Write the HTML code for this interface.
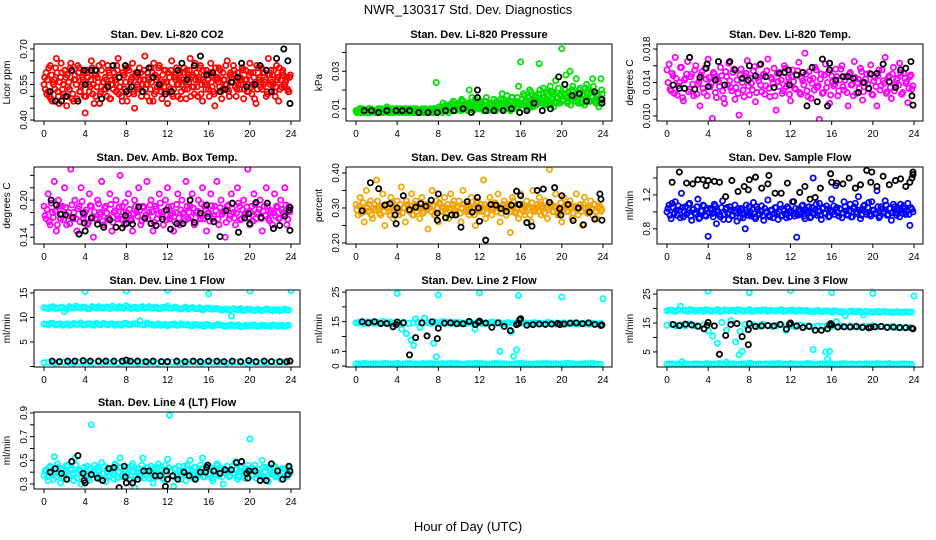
<!DOCTYPE html>
<html><head><meta charset="utf-8"><style>
body{margin:0;background:#fff;}
svg{display:block;font-family:"Liberation Sans",sans-serif;}
</style></head><body>
<svg id="chart" width="936" height="540" viewBox="0 0 936 540" xmlns="http://www.w3.org/2000/svg">
<text x="468" y="14" text-anchor="middle" font-size="13">NWR_130317  Std. Dev. Diagnostics</text>
<text x="468" y="531" text-anchor="middle" font-size="13">Hour of Day (UTC)</text>
</svg>
<script>
// ---- data (dense series sampled evenly over the day; black series with hours) ----
const xTicks = [0,4,8,12,16,20,24];

const co2Red = [.55,.60,.52,.63,.48,.57,.66,.50,.58,.53,.61,.46,.56,.64,.51,.59,.49,.62,.54,.57,.43,.60,.52,.65,.55,.50,.58,.47,.61,.56,.53,.63,.49,.57,.60,.52,.66,.54,.48,.59,.62,.51,.56,.64,.45,.58,.53,.60,.55,.67,.50,.57,.62,.48,.59,.54,.63,.52,.56,.61,.47,.58,.65,.53,.57,.50,.60,.55,.62,.49,.58,.66,.54,.51,.60,.57,.63,.48,.56,.61,.53,.64,.59,.46,.57,.62,.52,.60,.55,.65,.50,.58,.63,.54,.60,.53,.57,.49,.61,.55,.64,.51,.58,.47,.62,.56,.53,.60,.50,.66,.55,.59,.52,.63,.48,.57,.61,.54,.58,.52];
const co2Red2 = [.58,.51,.62,.49,.56,.53,.60,.47,.64,.55,.50,.59,.53,.61,.48,.57,.63,.52,.55,.60,.50,.58,.54,.62,.47,.59,.56,.51,.64,.53,.57,.61,.49,.55,.58,.63,.51,.56,.60,.53,.48,.61,.57,.52,.59,.55,.62,.50,.57,.53,.60,.48,.56,.64,.52,.58,.54,.49,.61,.56,.60,.53,.51,.58,.62,.55,.49,.57,.53,.61,.56,.50,.59,.64,.54,.58,.51,.61,.55,.59,.50,.56,.52,.62,.58,.54,.49,.57,.63,.53,.59,.56,.61,.50,.55,.58,.62,.53,.57,.52,.60,.55,.49,.63,.57,.54,.60,.56,.52,.59,.61,.55,.50,.57,.62,.54,.59,.56,.53,.58];
const co2Red3 = [.53,.57,.50,.59,.55,.62,.52,.56,.60,.51,.58,.54,.62,.49,.57,.55,.60,.52,.58,.50,.61,.55,.57,.51,.59,.54,.63,.52,.56,.58,.50,.60,.55,.53,.57,.61,.54,.50,.59,.56,.62,.53,.58,.51,.60,.54,.57,.52,.61,.55,.58,.53,.60,.51,.57,.62,.55,.59,.52,.56,.54,.61,.50,.59,.55,.57,.52,.60,.56,.53,.61,.58,.54,.57,.50,.62,.55,.59,.53,.57,.60,.54,.51,.58,.56,.61,.53,.57,.55,.52,.60,.56,.59,.53,.58,.55,.61,.57,.52,.59,.54,.60,.56,.53,.58,.62,.55,.57,.51,.59,.56,.61,.54,.58,.53,.60,.55,.57,.52,.59];
const co2BlackH = [0.6,1.1,1.7,2.2,2.7,3.3,3.9,4.0,4.6,5.0,5.6,6.2,6.7,7.3,7.9,8.0,8.5,9.1,9.6,10.2,10.6,11.2,11.8,12.4,13.0,13.4,13.9,14.6,15.2,15.8,16.4,17.1,17.6,18.2,18.8,19.2,19.7,20.5,21.0,21.6,22.1,22.6,23.3,23.7,23.9];
const co2BlackV = [.52,.48,.48,.50,.61,.48,.61,.55,.61,.61,.49,.54,.63,.58,.63,.52,.54,.60,.52,.62,.58,.55,.51,.52,.61,.64,.57,.63,.67,.59,.60,.52,.53,.56,.58,.64,.54,.55,.63,.61,.52,.66,.70,.65,.47];

const presGreen = [.009,.008,.010,.009,.008,.009,.010,.008,.009,.009,.008,.010,.009,.008,.009,.011,.008,.009,.010,.009,.009,.008,.010,.009,.008,.009,.010,.008,.009,.010,.008,.009,.010,.008,.009,.008,.010,.009,.008,.024,.009,.010,.008,.011,.009,.008,.010,.012,.009,.011,.013,.009,.014,.010,.012,.020,.011,.009,.015,.012,.010,.013,.009,.014,.011,.012,.010,.015,.009,.013,.011,.018,.010,.014,.012,.009,.016,.013,.011,.022,.035,.012,.017,.010,.014,.019,.011,.016,.013,.034,.015,.021,.012,.018,.014,.019,.011,.025,.016,.013,.042,.018,.028,.014,.030,.020,.016,.026,.013,.021,.017,.012,.023,.015,.019,.026,.014,.018,.011,.026];
const presGreen2 = [.008,.009,.009,.010,.008,.009,.008,.010,.009,.008,.009,.009,.010,.008,.009,.008,.010,.009,.008,.009,.010,.009,.008,.009,.010,.008,.009,.009,.008,.010,.009,.008,.009,.010,.008,.009,.009,.008,.010,.009,.011,.009,.013,.010,.009,.012,.010,.014,.009,.012,.010,.015,.011,.013,.009,.012,.016,.010,.013,.011,.014,.010,.012,.016,.009,.013,.011,.010,.014,.012,.015,.010,.013,.017,.011,.014,.010,.012,.016,.013,.012,.018,.014,.011,.020,.015,.012,.017,.014,.020,.013,.016,.019,.012,.022,.015,.018,.013,.021,.017,.014,.023,.016,.019,.012,.022,.017,.015,.020,.013,.018,.021,.016,.014,.019,.022,.015,.017,.013,.020];
const presGreen3 = [.009,.010,.008,.009,.009,.008,.010,.009,.009,.008,.010,.009,.008,.009,.010,.009,.009,.008,.009,.010,.008,.009,.009,.010,.009,.008,.009,.010,.009,.008,.009,.009,.008,.010,.009,.009,.008,.010,.009,.009,.010,.011,.009,.012,.010,.011,.013,.009,.011,.010,.012,.014,.010,.011,.013,.010,.012,.011,.013,.010,.012,.011,.014,.010,.012,.013,.011,.012,.010,.013,.012,.015,.011,.013,.010,.016,.012,.014,.011,.013,.015,.012,.014,.016,.011,.013,.015,.012,.018,.014,.016,.013,.015,.017,.012,.019,.014,.016,.013,.018,.015,.020,.013,.017,.015,.019,.014,.016,.018,.013,.017,.015,.020,.014,.016,.019,.013,.017,.015,.018];
const presBlackH = [0.8,1.5,2.2,3.0,3.9,4.5,5.2,6.1,7.0,7.9,8.7,9.5,10.4,11.2,11.8,11.8,12.6,13.4,14.3,15.1,15.9,16.6,17.3,18.1,18.9,19.7,20.3,21.0,21.7,22.4,23.2,23.9,23.9];
const presBlackV = [.009,.009,.008,.009,.009,.009,.009,.008,.008,.008,.009,.009,.010,.008,.020,.016,.009,.009,.009,.010,.008,.009,.013,.009,.010,.027,.023,.017,.018,.014,.019,.013,.015];

const tempMag = [.0155,.0162,.0130,.0148,.0170,.0125,.0140,.0158,.0118,.0145,.0165,.0132,.0150,.0124,.0160,.0138,.0112,.0153,.0128,.0144,.0168,.0135,.0097,.0150,.0122,.0141,.0158,.0130,.0115,.0147,.0163,.0134,.0152,.0120,.0143,.0101,.0156,.0131,.0148,.0166,.0125,.0139,.0154,.0117,.0146,.0161,.0129,.0150,.0136,.0168,.0123,.0144,.0157,.0107,.0141,.0152,.0127,.0160,.0135,.0146,.0118,.0155,.0133,.0149,.0164,.0126,.0142,.0175,.0130,.0153,.0121,.0145,.0158,.0134,.0096,.0150,.0128,.0162,.0140,.0115,.0148,.0136,.0156,.0124,.0143,.0160,.0131,.0147,.0112,.0152,.0138,.0165,.0127,.0144,.0157,.0119,.0140,.0150,.0133,.0161,.0125,.0146,.0112,.0155,.0136,.0142,.0170,.0129,.0148,.0121,.0158,.0137,.0145,.0163,.0126,.0151,.0139,.0116,.0147,.0132];
const tempMag2 = [.0140,.0132,.0151,.0127,.0145,.0136,.0158,.0122,.0143,.0150,.0129,.0147,.0138,.0155,.0126,.0141,.0149,.0133,.0157,.0124,.0146,.0139,.0152,.0128,.0144,.0135,.0148,.0121,.0153,.0137,.0142,.0130,.0156,.0134,.0127,.0149,.0140,.0123,.0151,.0136,.0145,.0131,.0159,.0128,.0142,.0137,.0148,.0126,.0154,.0133,.0146,.0139,.0124,.0151,.0135,.0143,.0130,.0157,.0138,.0126,.0147,.0141,.0132,.0154,.0128,.0145,.0137,.0150,.0123,.0143,.0139,.0131,.0155,.0136,.0144,.0127,.0149,.0134,.0152,.0125,.0141,.0138,.0147,.0130,.0156,.0135,.0143,.0128,.0150,.0137,.0124,.0146,.0140,.0133,.0153,.0129,.0144,.0138,.0151,.0126,.0142,.0135,.0148,.0131,.0155,.0139,.0127,.0146,.0134,.0150,.0130,.0143,.0137,.0152,.0128,.0145,.0141,.0133,.0149,.0136];
const tempBlackH = [0.6,1.2,1.7,2.2,2.7,3.2,3.8,3.9,4.0,4.7,5.0,5.6,6.1,6.6,7.3,7.9,8.0,8.6,9.1,9.6,10.4,10.9,11.4,11.8,11.9,12.6,13.2,13.6,14.1,14.6,15.1,15.6,15.8,15.8,16.4,17.1,17.6,18.1,18.6,19.1,19.6,19.8,20.4,21.0,21.6,22.2,22.7,23.2,23.7,23.8,23.9];
const tempBlackV = [.0137,.0133,.0133,.0170,.0132,.0146,.0157,.0162,.0135,.0143,.0165,.0137,.0165,.0155,.0145,.0143,.0160,.0148,.0162,.0147,.0134,.0151,.0152,.0155,.0137,.0149,.0152,.0112,.0158,.0117,.0168,.0112,.0155,.0163,.0143,.0147,.0147,.0145,.0128,.0140,.0133,.0150,.0151,.0162,.0141,.0134,.0155,.0157,.0165,.0124,.0113];

const boxMag = [.19,.17,.21,.16,.18,.23,.15,.20,.17,.19,.22,.16,.18,.25,.17,.20,.15,.19,.22,.17,.18,.16,.21,.19,.14,.17,.20,.18,.23,.16,.19,.17,.21,.15,.18,.20,.17,.24,.19,.16,.18,.21,.17,.15,.20,.18,.22,.16,.19,.17,.23,.18,.20,.15,.19,.17,.21,.18,.16,.20,.22,.17,.19,.15,.18,.21,.16,.20,.18,.23,.17,.19,.21,.16,.18,.20,.17,.22,.19,.15,.18,.21,.17,.19,.23,.16,.20,.18,.14,.19,.17,.21,.18,.16,.22,.19,.17,.20,.18,.25,.16,.19,.21,.17,.18,.20,.15,.19,.22,.17,.18,.16,.21,.19,.17,.20,.18,.22,.16,.19];
const boxMag2 = [.175,.185,.165,.195,.172,.182,.160,.190,.178,.168,.188,.174,.162,.192,.180,.170,.186,.165,.198,.176,.184,.163,.191,.173,.181,.168,.194,.177,.166,.187,.179,.171,.193,.164,.183,.175,.189,.169,.180,.196,.172,.185,.167,.178,.190,.174,.183,.166,.188,.176,.170,.192,.181,.164,.186,.177,.195,.173,.182,.168,.189,.175,.179,.165,.193,.171,.184,.178,.167,.190,.180,.173,.187,.163,.182,.176,.194,.170,.185,.178,.166,.191,.174,.183,.169,.188,.177,.181,.164,.192,.175,.186,.171,.179,.195,.168,.184,.176,.189,.172,.180,.166,.193,.178,.185,.170,.182,.175,.190,.167,.183,.179,.174,.188,.171,.185,.177,.192,.169,.181];
const boxBlackH = [0.7,1.2,1.6,2.1,2.8,3.4,3.8,3.9,4.0,4.6,5.2,5.8,6.4,7.0,7.6,7.9,8.0,8.6,9.2,9.8,10.4,10.9,11.5,11.9,12.3,12.9,13.5,14.2,14.6,15.2,15.8,15.9,16.5,17.1,17.7,18.3,18.9,19.5,19.9,20.0,20.6,21.1,21.7,22.3,22.9,23.4,23.8,23.9,23.9];
const boxBlackV = [.200,.192,.177,.176,.172,.145,.179,.163,.150,.171,.161,.156,.168,.156,.155,.175,.162,.161,.189,.171,.162,.159,.169,.184,.153,.162,.162,.200,.164,.179,.192,.173,.165,.141,.183,.195,.148,.171,.178,.162,.196,.172,.195,.154,.159,.174,.184,.188,.151];

const flowBlue = [1.00,1.08,.92,1.05,1.12,.96,1.02,1.22,.94,1.06,.99,1.10,.90,1.03,.97,1.15,.93,1.01,1.07,.95,.71,1.04,.98,1.09,.86,1.00,.94,1.13,.97,1.05,.91,1.02,.96,1.08,.89,1.01,1.04,.93,.80,.99,1.06,.95,1.11,.92,1.03,.97,1.07,.90,1.00,1.14,.94,1.02,.98,1.05,.91,1.09,.96,1.01,.93,1.04,.99,1.12,.95,.70,1.03,.97,1.08,.92,1.00,1.06,.94,1.40,1.02,.96,1.10,.91,1.05,.98,1.03,.95,1.15,1.07,1.31,.99,1.04,.93,1.12,1.01,.96,1.09,.94,1.06,1.00,1.18,.92,1.03,1.08,.97,1.11,.95,1.02,.98,1.25,.93,1.06,1.00,1.13,.96,1.04,.90,1.09,.99,1.05,.94,1.02,1.07,.97,1.10,.84,1.03];
const flowBlue2 = [1.04,.96,1.10,.98,1.02,1.07,.93,1.05,1.00,.97,1.09,.95,1.03,.99,1.06,.92,1.01,1.08,.96,1.04,.99,1.02,.94,1.07,1.00,.97,1.05,.91,1.03,.98,1.06,.95,1.01,.99,1.04,.93,1.02,.97,1.08,.96,1.00,1.03,.94,1.06,.98,1.01,.95,1.04,.99,.96,1.02,.93,1.05,.98,1.00,.95,1.03,.97,1.06,.94,1.01,.98,1.04,.96,1.00,1.07,.95,1.02,.99,.93,1.05,.98,1.09,1.01,.96,1.04,.99,1.07,.94,1.02,1.00,.97,1.05,.95,1.03,.99,1.06,.97,1.01,.94,1.04,1.10,.98,1.02,.96,1.07,1.00,1.05,.97,1.12,1.02,.99,1.06,.95,1.03,1.00,1.08,.97,1.04,.99,1.06,.96,1.02,1.09,.98,1.04,1.01,.97,1.05,1.00];
const flowBlackH = [0.5,1.2,1.9,2.5,3.0,3.5,3.8,4.0,4.6,5.1,5.7,6.3,6.9,7.5,7.9,8.0,8.6,9.2,9.8,9.9,10.5,11.1,11.7,12.3,12.9,13.4,13.9,14.4,14.9,15.9,16.0,16.5,17.1,17.7,18.3,18.8,19.4,19.8,19.9,20.4,21.0,21.6,22.2,22.7,23.2,23.6,23.8,23.9,23.9];
const flowBlackV = [1.35,1.47,1.34,1.33,1.38,1.38,1.31,1.37,1.36,1.35,1.18,1.37,1.24,1.30,1.26,1.38,1.41,1.28,1.33,1.43,1.22,1.22,1.34,1.12,1.23,1.30,1.15,1.17,1.28,1.45,1.35,1.34,1.33,1.40,1.28,1.32,1.49,1.35,1.47,1.30,1.42,1.32,1.37,1.39,1.30,1.35,1.40,1.44,1.47];

const rhOrange = [.31,.28,.33,.30,.26,.35,.29,.32,.27,.31,.38,.30,.28,.34,.25,.31,.29,.33,.27,.30,.32,.28,.36,.30,.26,.31,.29,.34,.28,.32,.30,.27,.33,.29,.31,.24,.30,.35,.28,.32,.26,.31,.29,.33,.30,.27,.34,.31,.28,.30,.32,.26,.35,.29,.31,.28,.33,.30,.25,.32,.29,.31,.38,.27,.30,.33,.28,.31,.29,.34,.26,.30,.32,.28,.31,.23,.33,.29,.30,.27,.34,.31,.28,.32,.30,.26,.35,.29,.31,.33,.28,.30,.32,.27,.41,.31,.29,.34,.28,.30,.26,.33,.31,.29,.32,.27,.30,.34,.28,.31,.25,.33,.29,.30,.32,.28,.31,.27,.30,.29];
const rhOrange2 = [.295,.305,.285,.315,.29,.30,.31,.28,.30,.295,.32,.285,.305,.29,.31,.30,.28,.315,.295,.30,.29,.31,.285,.30,.32,.295,.305,.28,.31,.29,.30,.315,.285,.30,.295,.31,.29,.305,.28,.30,.315,.29,.30,.285,.31,.295,.30,.32,.29,.305,.285,.30,.31,.295,.29,.305,.30,.28,.315,.295,.30,.29,.31,.285,.305,.30,.295,.315,.29,.30,.285,.31,.30,.295,.305,.29,.32,.285,.30,.31,.295,.29,.305,.30,.28,.315,.295,.30,.29,.31,.305,.285,.30,.295,.31,.29,.305,.30,.285,.315,.295,.30,.29,.31,.30,.285,.305,.295,.30,.29,.31,.30,.285,.305,.295,.31,.29,.30,.305,.295];
const rhBlackH = [0.6,1.4,2.2,2.8,3.3,3.8,3.9,4.0,4.6,5.2,5.8,6.3,6.8,7.3,7.9,7.9,8.0,8.7,9.3,9.7,10.2,10.8,11.3,11.8,11.9,12.0,12.6,13.1,13.6,14.1,14.6,15.1,15.6,15.8,15.9,16.0,16.6,17.1,17.6,18.2,18.8,19.3,19.8,19.9,20.0,20.6,21.1,21.6,22.1,22.7,23.2,23.7,23.8,23.9];
const rhBlackV = [.292,.372,.355,.308,.312,.280,.255,.300,.335,.295,.302,.312,.305,.322,.285,.265,.340,.272,.280,.280,.245,.318,.288,.330,.300,.262,.208,.310,.308,.298,.290,.308,.348,.310,.310,.335,.258,.248,.350,.354,.316,.358,.298,.280,.335,.310,.264,.300,.252,.288,.268,.340,.325,.265];

const line1A = [12.0,11.8,12.2,11.9,12.1,11.7,12.0,12.3,11.9,12.1,11.8,12.0,12.2,11.9,12.1,12.3,11.9,12.0,12.4,11.8,12.1,12.0,11.9,12.2,12.0,11.8,12.1,12.3,11.9,12.0,11.7,12.1,11.9,11.8,12.0,11.6,11.9,11.7,11.8,11.5,11.7,10.3,11.6,11.8,11.5,11.7,11.4,11.6,11.5,11.7,11.4,11.6,11.5,11.6];
const line1A2 = [11.9,12.1,11.8,12.0,11.2,12.2,11.9,12.0,12.1,11.8,12.2,11.9,12.0,12.1,11.8,12.0,12.2,11.9,12.1,12.0,11.8,12.2,12.0,11.9,12.1,11.8,12.0,11.9,12.1,11.8,11.9,11.7,12.0,11.8,11.6,11.9,11.7,11.8,11.6,11.7,11.5,11.8,11.6,11.4,11.7,11.5,11.6,11.4,11.7,11.5,11.6,11.4,11.7,11.5];
const line1B = [8.7,8.5,8.8,8.6,8.4,8.7,8.5,8.6,8.9,8.5,8.7,8.4,8.6,8.8,8.5,8.7,8.6,8.4,8.8,8.6,8.7,9.3,8.5,8.6,8.4,8.7,8.5,8.3,8.6,8.4,8.7,8.5,8.3,8.6,8.4,8.2,8.5,8.3,8.6,8.4,8.2,8.5,8.3,8.1,8.4,8.3,8.5,8.2,8.4,8.3,8.5,8.2,8.4,8.3];
const line1B2 = [8.6,8.8,8.5,8.7,8.6,8.4,8.8,8.6,8.5,8.7,8.6,8.8,8.5,8.6,8.7,8.4,8.6,8.8,8.5,8.7,8.6,8.5,8.9,8.6,8.5,8.4,8.6,8.5,8.7,8.4,8.5,8.6,8.3,8.5,8.4,8.6,8.3,8.4,8.5,8.2,8.4,8.3,8.5,8.2,8.3,8.4,8.2,8.4,8.3,8.2,8.4,8.3,8.2,8.4];
const line1C = [0.8,0.9,0.7,0.8,0.9,0.8,0.7,0.9,0.8,0.8,0.7,0.9,0.8,0.9,0.8,0.7,0.8,0.9,0.8,0.7,0.9,0.8,0.8,0.7,0.9,0.8,0.9,0.8,0.7,0.8,0.9,0.8,0.7,0.9,0.8,0.8,0.9,0.7,0.8,0.9,0.8,0.7,0.9,0.8,0.8,0.7,0.9,0.8,0.9,0.8];
const line1OutH = [4,8,12,16,20,24];
const line1OutV = [15.3,15.4,15.5,14.8,15.4,15.5];
const line1BlackH = [0.8,1.5,2.3,3.0,3.8,4.5,5.3,6.0,6.8,7.6,8.0,8.4,9.1,9.9,10.6,11.4,12.0,12.9,13.7,14.5,15.2,16.0,16.8,17.5,18.3,19.1,19.9,20.6,21.4,22.1,22.9,23.6,23.9];
const line1BlackV = [1.1,1.0,1.1,1.1,1.2,1.1,1.1,1.1,1.1,1.1,1.3,1.1,1.1,1.0,1.1,1.0,1.0,1.1,1.0,1.1,1.0,1.1,1.1,1.0,1.1,1.0,1.2,1.0,1.1,1.0,1.0,1.0,1.1];

const line2A = [14.6,14.8,14.4,14.9,14.5,14.7,15.1,14.6,14.3,14.8,12.5,11.0,8.8,15.9,13.0,16.3,14.7,7.7,14.5,15.1,14.8,14.4,14.9,14.6,14.3,14.7,12.5,14.9,14.5,14.4,14.8,14.6,14.3,14.7,11.5,14.5,14.9,14.6,14.3,14.7,14.5,14.4,14.8,14.3,14.6,14.5,14.2,14.6,14.4,14.3,14.5,14.2,14.4,14.3];
const line2A2 = [14.7,14.5,14.9,14.6,14.8,14.4,14.7,14.9,14.5,14.6,14.8,14.4,14.6,14.9,14.5,14.7,14.4,14.8,14.6,14.5,14.9,14.7,14.4,14.6,14.8,14.5,14.7,14.4,14.6,14.8,14.5,14.7,14.4,14.6,14.5,14.3,14.7,14.5,14.6,14.4,14.3,14.6,14.5,14.2,14.4,14.6,14.3,14.5,14.2,14.4,14.3,14.5,14.2,14.4];
const line2B = [0.8,0.6,0.9,0.7,0.8,0.6,0.9,0.7,0.8,0.6,0.7,0.9,0.8,0.6,0.7,0.9,0.8,0.7,0.6,0.9,0.8,0.7,0.6,0.8,0.9,0.7,0.8,0.6,0.9,0.7,0.8,0.6,0.7,0.9,0.8,0.7,0.6,0.8,0.9,0.7,0.8,0.6,0.7,0.9,0.8,0.7,0.6,0.8,0.9,0.7];
const line2B2 = [0.7,0.9,0.6,0.8,0.7,0.9,0.8,0.6,0.9,0.7,0.8,0.6,0.7,0.9,0.8,0.7,0.6,0.9,0.8,0.7,0.9,0.6,0.8,0.7,0.9,0.8,0.6,0.7,0.9,0.8,0.7,0.6,0.8,0.9,0.7,0.6,0.8,0.7,0.9,0.6,0.8,0.7,0.9,0.8,0.6,0.7,0.9,0.8,0.7,0.6];
const line2OutH = [4,5.6,7.8,8,12,14,15.3,15.6,15.8,20,24];
const line2OutV = [24.5,7.0,3.2,24.0,24.7,5.0,3.3,5.5,23.8,23.3,22.8];
const line2BlackH = [0.6,1.2,1.8,2.4,3.0,3.6,3.9,4.0,4.6,5.2,5.8,6.4,6.9,7.4,7.9,8.0,8.6,9.2,9.8,10.4,11.0,11.6,11.9,12.0,12.6,13.2,13.8,14.4,15.0,15.6,15.8,15.9,16.0,16.6,17.2,17.8,18.4,19.0,19.6,19.8,20.2,20.8,21.4,22.0,22.6,23.2,23.8,23.9];
const line2BlackV = [15.0,14.6,15.0,14.4,14.4,13.3,14.0,14.9,14.6,3.8,9.6,14.6,10.2,15.0,9.3,12.8,14.5,14.6,14.3,14.3,15.1,14.0,14.8,15.2,14.5,13.1,14.6,13.4,12.0,14.0,14.4,15.6,16.0,13.8,14.0,14.2,14.1,14.2,14.4,14.0,14.2,14.5,14.6,14.3,14.6,14.1,13.7,13.9];

const line3A = [19.2,19.5,19.0,20.8,19.3,19.6,19.1,19.4,19.0,19.5,19.2,19.6,19.1,19.3,19.4,19.0,19.5,19.2,19.6,19.1,19.3,19.5,19.0,19.4,19.2,19.6,19.1,19.3,19.0,19.4,19.2,19.1,18.9,19.3,19.0,19.2,18.8,19.1,18.7,17.5,19.0,18.8,19.1,17.8,18.9,18.7,19.0,18.8,18.9,18.7,18.9,18.6,18.8,18.7];
const line3A2 = [19.4,19.1,19.6,19.3,19.0,19.5,19.2,19.4,19.6,19.1,19.3,19.0,19.5,19.2,19.4,19.6,19.1,19.3,19.0,19.4,19.2,19.5,19.3,19.1,19.4,19.0,19.3,19.5,19.2,19.1,19.3,19.0,19.2,18.9,19.1,19.0,19.2,18.9,19.0,18.8,19.1,18.9,18.7,19.0,18.8,18.9,18.7,19.0,18.8,18.6,18.9,18.7,18.9,18.8];
const line3B = [14.2,14.5,13.9,14.3,14.0,14.6,14.1,13.8,14.4,12.3,10.5,8.0,15.2,12.5,15.8,8.5,12.0,14.5,14.0,14.3,13.9,14.6,14.2,13.8,14.1,14.4,12.5,14.0,13.7,14.3,13.9,14.1,13.6,14.0,13.8,14.2,13.7,15.5,13.9,13.6,14.0,13.8,13.5,13.9,13.7,14.1,13.6,13.8,13.5,13.7,13.4,13.6,13.3,13.5];
const line3C = [0.8,0.9,0.7,1.6,0.8,0.7,0.9,0.8,1.0,0.7,0.8,0.9,1.4,0.8,0.7,0.9,0.8,1.0,0.7,0.8,0.9,0.8,0.7,0.9,0.8,1.0,0.7,0.8,0.9,0.8,0.7,0.9,0.8,1.0,0.7,0.8,0.9,0.8,0.7,0.9,0.8,0.8,0.7,0.9,0.8,1.0,0.7,0.8,0.9,0.8];
const line3C2 = [0.9,0.7,0.8,1.0,0.7,0.9,0.8,0.7,0.9,0.8,1.0,0.7,0.8,0.9,0.7,0.8,1.0,0.8,0.9,0.7,0.8,0.9,1.0,0.7,0.8,0.9,0.8,0.7,1.0,0.9,0.8,0.7,0.9,0.8,0.7,1.0,0.8,0.9,0.7,0.8,0.9,0.7,1.0,0.8,0.9,0.7,0.8,0.9,0.8,0.7];
const line3OutH = [4,7,7.3,8,12,14.2,15.4,15.6,15.8,16,20,24];
const line3OutV = [26.0,4.0,5.2,25.5,26.2,5.8,5.0,2.6,5.2,25.5,25.2,24.3];
const line3BlackH = [0.6,1.2,1.8,2.4,3.0,3.6,3.9,4.0,4.6,5.1,5.7,6.2,6.8,7.3,7.9,7.9,8.0,8.6,9.2,9.8,10.4,11.0,11.6,11.9,12.0,12.6,13.2,13.8,14.4,15.0,15.6,15.8,15.9,16.0,16.6,17.2,17.8,18.4,19.0,19.6,19.8,20.2,20.8,21.4,22.0,22.6,23.2,23.8,23.9];
const line3BlackV = [14.5,14.1,14.6,14.3,13.9,13.0,14.2,15.2,14.0,4.2,10.7,14.5,14.8,10.3,7.5,12.7,14.8,13.8,14.0,14.1,14.0,14.5,12.9,14.6,15.0,14.0,13.4,13.8,12.5,12.5,13.0,14.2,14.8,14.4,13.6,13.7,13.6,13.8,13.5,13.3,13.5,13.7,13.8,13.5,13.6,13.4,13.4,13.2,13.0];

const line4Cyan = [.37,.42,.33,.45,.40,.53,.36,.44,.31,.41,.38,.46,.34,.43,.39,.52,.35,.42,.30,.40,.37,.45,.33,.80,.41,.38,.44,.36,.48,.39,.32,.43,.37,.41,.34,.46,.40,.52,.36,.42,.38,.44,.33,.47,.27,.40,.43,.36,.52,.38,.41,.35,.45,.31,.39,.44,.37,.42,.34,.46,.51,.88,.40,.28,.43,.36,.41,.38,.45,.33,.42,.50,.37,.44,.35,.40,.46,.52,.36,.42,.38,.44,.33,.41,.47,.37,.43,.30,.40,.45,.36,.42,.39,.49,.34,.41,.44,.37,.40,.46,.68,.38,.43,.35,.42,.39,.50,.36,.44,.32,.41,.38,.45,.37,.42,.34,.40,.43,.36,.44];
const line4Cyan2 = [.41,.36,.44,.39,.34,.42,.47,.38,.43,.35,.40,.45,.37,.42,.33,.46,.39,.41,.36,.44,.38,.35,.43,.40,.46,.37,.42,.34,.39,.45,.41,.36,.43,.38,.47,.35,.40,.44,.37,.42,.39,.34,.45,.40,.36,.43,.38,.46,.35,.41,.44,.37,.40,.43,.36,.47,.39,.35,.42,.38,.44,.40,.36,.43,.38,.45,.34,.41,.39,.46,.37,.42,.35,.44,.40,.38,.43,.36,.41,.45,.39,.35,.42,.38,.46,.40,.36,.43,.39,.41,.37,.45,.38,.42,.36,.44,.40,.35,.43,.39,.41,.37,.46,.38,.42,.36,.44,.40,.37,.43,.39,.45,.36,.41,.38,.43,.40,.37,.42,.39];
const line4BlackH = [0.6,1.1,1.7,2.2,2.7,3.3,3.8,3.9,4.0,4.6,5.2,5.7,6.3,6.8,7.3,7.8,7.9,8.0,8.6,9.1,9.7,10.2,10.8,11.3,11.8,11.9,12.0,12.5,13.0,13.6,14.1,14.7,15.2,15.7,15.8,15.9,16.5,17.1,17.6,18.2,18.7,19.2,19.7,19.8,19.9,20.5,21.0,21.6,22.1,22.7,23.2,23.7,23.8,23.9];
const line4BlackV = [.40,.43,.39,.34,.49,.54,.39,.33,.31,.38,.35,.33,.43,.44,.27,.45,.36,.31,.31,.34,.41,.41,.37,.37,.28,.41,.34,.37,.34,.40,.37,.34,.40,.40,.44,.46,.41,.39,.42,.42,.48,.49,.39,.35,.41,.41,.33,.33,.47,.41,.34,.38,.45,.41];

// ---- drawing ----
const NS = 'http://www.w3.org/2000/svg';
const svg = document.getElementById('chart');
const PW = 266, PH = 77;

// sampling times: each dense series is spread evenly across the day; offset staggers interleaved samples
function evenHours(arr, off){ return arr.map((_, i) => Math.min(24, (i + off) * 24 / arr.length)); }

function makePanel(cfg){
  const g = document.createElementNS(NS, 'g');
  
  
  svg.appendChild(g);
  const L = cfg.left, T = cfg.top;
  const sx = h => L + 10 + h / 24 * 247;
  const sy = v => T + PH - (v - cfg.ymin) / (cfg.ymax - cfg.ymin) * PH;
  const clip = document.createElementNS(NS, 'clipPath');
  clip.setAttribute('id', cfg.name + '-clip');
  const cr = document.createElementNS(NS, 'rect');
  cr.setAttribute('x', L); cr.setAttribute('y', T); cr.setAttribute('width', PW); cr.setAttribute('height', PH);
  clip.appendChild(cr); g.appendChild(clip);

  const t = document.createElementNS(NS, 'text');
  
  
  t.setAttribute('x', L + PW / 2); t.setAttribute('y', T - 6);
  t.setAttribute('text-anchor', 'middle'); t.setAttribute('font-size', '11'); t.setAttribute('font-weight', 'bold');
  t.textContent = cfg.title; g.appendChild(t);

  const yl = document.createElementNS(NS, 'text');
  
  
  yl.setAttribute('transform', `translate(${L - 24},${T + PH / 2}) rotate(-90)`);
  yl.setAttribute('text-anchor', 'middle'); yl.setAttribute('font-size', '10');
  yl.textContent = cfg.ylab; g.appendChild(yl);

  cfg.yticks.forEach(v => {
    const ln = document.createElementNS(NS, 'line');
    
    
    ln.setAttribute('x1', L); ln.setAttribute('x2', L - 4);
    ln.setAttribute('y1', sy(v)); ln.setAttribute('y2', sy(v));
    ln.setAttribute('stroke', '#000'); g.appendChild(ln);
  });
  cfg.ylabels.forEach((s, i) => {
    const lb = document.createElementNS(NS, 'text');
    
    
    lb.setAttribute('transform', `translate(${L - 7},${sy(cfg.ylabelVals[i])}) rotate(-90)`);
    lb.setAttribute('text-anchor', 'middle'); lb.setAttribute('font-size', '10');
    lb.textContent = s; g.appendChild(lb);
  });
  xTicks.forEach(h => {
    const ln = document.createElementNS(NS, 'line');
    
    
    ln.setAttribute('x1', sx(h)); ln.setAttribute('x2', sx(h));
    ln.setAttribute('y1', T + PH); ln.setAttribute('y2', T + PH + 4);
    ln.setAttribute('stroke', '#000'); g.appendChild(ln);
    const lb = document.createElementNS(NS, 'text');
    
    
    lb.setAttribute('x', sx(h)); lb.setAttribute('y', T + PH + 16);
    lb.setAttribute('text-anchor', 'middle'); lb.setAttribute('font-size', '10');
    lb.textContent = String(h); g.appendChild(lb);
  });

  const pts = document.createElementNS(NS, 'g');
  
  
  pts.setAttribute('clip-path', `url(#${cfg.name}-clip)`);
  g.appendChild(pts);
  cfg.series.forEach(s => {
    const hs = s.hours || evenHours(s.values, s.off || 0);
    s.values.forEach((v, i) => {
      const c = document.createElementNS(NS, 'circle');
      
      
      c.setAttribute('cx', sx(hs[i])); c.setAttribute('cy', sy(v)); c.setAttribute('r', 2.6);
      c.setAttribute('fill', 'none'); c.setAttribute('stroke', s.color); c.setAttribute('stroke-width', 1.8);
      pts.appendChild(c);
    });
  });

  const box = document.createElementNS(NS, 'rect');
  
  
  box.setAttribute('x', L); box.setAttribute('y', T); box.setAttribute('width', PW); box.setAttribute('height', PH);
  box.setAttribute('fill', 'none'); box.setAttribute('stroke', '#000');
  g.appendChild(box);
}

const C1 = 34, C2 = 346, C3 = 657, R1 = 44, R2 = 167, R3 = 290, R4 = 412;
makePanel({name:'panel-co2', left:C1, top:R1, ymin:.396, ymax:.721, title:'Stan. Dev. Li-820 CO2', ylab:'Licor ppm',
  yticks:[.40,.45,.50,.55,.60,.65,.70], ylabels:['0.40','0.55','0.70'], ylabelVals:[.40,.55,.70],
  series:[{name:'co2-red', color:'#ff0000', values:co2Red},{name:'co2-red-b', color:'#ff0000', values:co2Red2, off:0.33},{name:'co2-red-c', color:'#ff0000', values:co2Red3, off:0.66},{name:'co2-black', color:'#000', values:co2BlackV, hours:co2BlackH}]});
makePanel({name:'panel-pressure', left:C2, top:R1, ymin:.0035, ymax:.0445, title:'Stan. Dev. Li-820 Pressure', ylab:'kPa',
  yticks:[.01,.02,.03,.04], ylabels:['0.01','0.03'], ylabelVals:[.01,.03],
  series:[{name:'pressure-green', color:'#00e000', values:presGreen},{name:'pressure-green-b', color:'#00e000', values:presGreen2, off:0.33},{name:'pressure-green-c', color:'#00e000', values:presGreen3, off:0.66},{name:'pressure-black', color:'#000', values:presBlackV, hours:presBlackH}]});
makePanel({name:'panel-li820-temp', left:C3, top:R1, ymin:.0094, ymax:.0186, title:'Stan. Dev. Li-820 Temp.', ylab:'degrees C',
  yticks:[.010,.012,.014,.016,.018], ylabels:['0.010','0.014','0.018'], ylabelVals:[.010,.014,.018],
  series:[{name:'temp-magenta', color:'#ff00ff', values:tempMag},{name:'temp-magenta-b', color:'#ff00ff', values:tempMag2, off:0.5},{name:'temp-black', color:'#000', values:tempBlackV, hours:tempBlackH}]});
makePanel({name:'panel-box-temp', left:C1, top:R2, ymin:.129, ymax:.2535, title:'Stan. Dev. Amb. Box Temp.', ylab:'degrees C',
  yticks:[.14,.16,.18,.20,.22,.24], ylabels:['0.14','0.20'], ylabelVals:[.14,.20],
  series:[{name:'box-magenta', color:'#ff00ff', values:boxMag},{name:'box-magenta-b', color:'#ff00ff', values:boxMag2, off:0.5},{name:'box-black', color:'#000', values:boxBlackV, hours:boxBlackH}]});
makePanel({name:'panel-rh', left:C2, top:R2, ymin:.197, ymax:.417, title:'Stan. Dev. Gas Stream RH', ylab:'percent',
  yticks:[.20,.25,.30,.35,.40], ylabels:['0.20','0.30','0.40'], ylabelVals:[.20,.30,.40],
  series:[{name:'rh-orange', color:'#f5a500', values:rhOrange},{name:'rh-orange-b', color:'#f0a000', values:rhOrange2, off:0.5},{name:'rh-black', color:'#000', values:rhBlackV, hours:rhBlackH}]});
makePanel({name:'panel-sample-flow', left:C3, top:R2, ymin:.62, ymax:1.53, title:'Stan. Dev. Sample Flow', ylab:'ml/min',
  yticks:[.8,1.0,1.2,1.4], ylabels:['0.8','1.2'], ylabelVals:[.8,1.2],
  series:[{name:'flow-blue', color:'#0000ff', values:flowBlue},{name:'flow-blue-b', color:'#0000ff', values:flowBlue2, off:0.5},{name:'flow-black', color:'#000', values:flowBlackV, hours:flowBlackH}]});
makePanel({name:'panel-line1', left:C1, top:R3, ymin:-0.1, ymax:15.6, title:'Stan. Dev. Line 1 Flow', ylab:'ml/min',
  yticks:[0,5,10,15], ylabels:['5','10','15'], ylabelVals:[5,10,15],
  series:[{name:'line1-cyan-a', color:'#00ffff', values:line1A},{name:'line1-cyan-a2', color:'#00ffff', values:line1A2, off:0.5},{name:'line1-cyan-b', color:'#00ffff', values:line1B},{name:'line1-cyan-b2', color:'#00ffff', values:line1B2, off:0.5},{name:'line1-cyan-c', color:'#00ffff', values:line1C},{name:'line1-cyan-out', color:'#00ffff', values:line1OutV, hours:line1OutH},{name:'line1-black', color:'#000', values:line1BlackV, hours:line1BlackH}]});
makePanel({name:'panel-line2', left:C2, top:R3, ymin:-0.3, ymax:25.7, title:'Stan. Dev. Line 2 Flow', ylab:'ml/min',
  yticks:[0,5,10,15,20,25], ylabels:['0','5','15','25'], ylabelVals:[0,5,15,25],
  series:[{name:'line2-cyan-a', color:'#00ffff', values:line2A},{name:'line2-cyan-a2', color:'#00ffff', values:line2A2, off:0.5},{name:'line2-cyan-b', color:'#00ffff', values:line2B},{name:'line2-cyan-b2', color:'#00ffff', values:line2B2, off:0.5},{name:'line2-cyan-out', color:'#00ffff', values:line2OutV, hours:line2OutH},{name:'line2-black', color:'#000', values:line2BlackV, hours:line2BlackH}]});
makePanel({name:'panel-line3', left:C3, top:R3, ymin:-0.2, ymax:26.4, title:'Stan. Dev. Line 3 Flow', ylab:'ml/min',
  yticks:[5,10,15,20,25], ylabels:['5','15','25'], ylabelVals:[5,15,25],
  series:[{name:'line3-cyan-a', color:'#00ffff', values:line3A},{name:'line3-cyan-a2', color:'#00ffff', values:line3A2, off:0.5},{name:'line3-cyan-b', color:'#00ffff', values:line3B},{name:'line3-cyan-c', color:'#00ffff', values:line3C},{name:'line3-cyan-c2', color:'#00ffff', values:line3C2, off:0.5},{name:'line3-cyan-out', color:'#00ffff', values:line3OutV, hours:line3OutH},{name:'line3-black', color:'#000', values:line3BlackV, hours:line3BlackH}]});
makePanel({name:'panel-line4', left:C1, top:R4, ymin:.258, ymax:.908, title:'Stan. Dev. Line 4 (LT) Flow', ylab:'ml/min',
  yticks:[.3,.4,.5,.6,.7,.8,.9], ylabels:['0.3','0.5','0.7','0.9'], ylabelVals:[.3,.5,.7,.9],
  series:[{name:'line4-cyan', color:'#00ffff', values:line4Cyan},{name:'line4-cyan-b', color:'#00ffff', values:line4Cyan2, off:0.5},{name:'line4-black', color:'#000', values:line4BlackV, hours:line4BlackH}]});
</script>
</body></html>
